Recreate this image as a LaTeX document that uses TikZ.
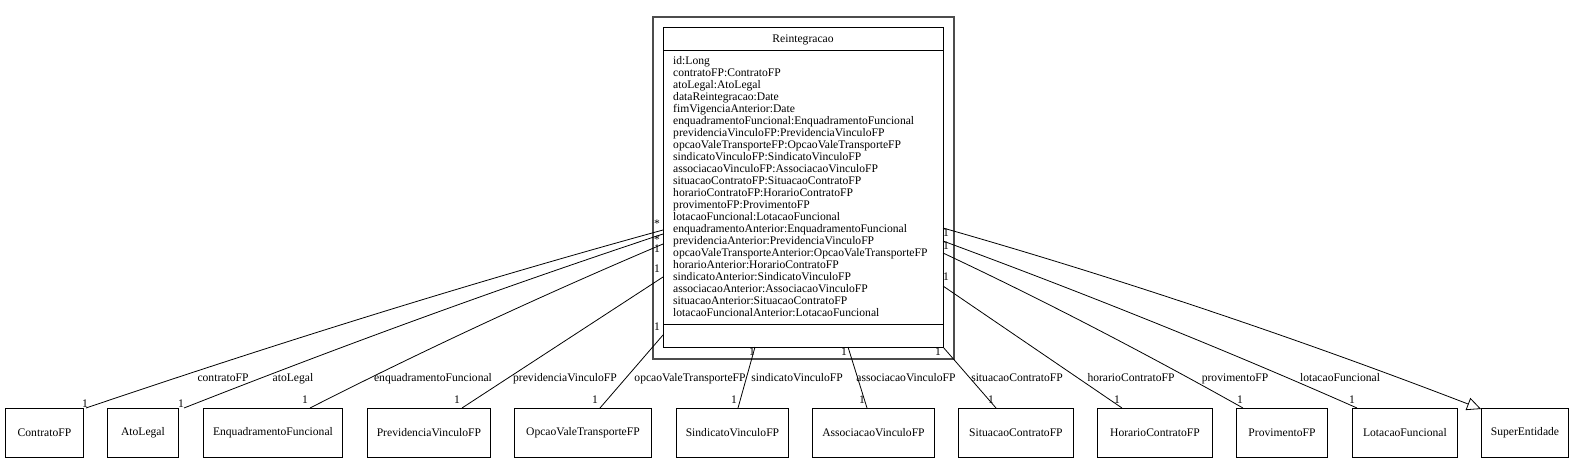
\documentclass[tikz,border=0pt]{standalone}
\usepackage{fontspec}
\setmainfont{Liberation Serif}
\usetikzlibrary{arrows.meta}
\begin{document}
\begin{tikzpicture}[x=1pt,y=-1pt,
  every node/.style={font=\fontsize{11.6}{12}\selectfont, inner sep=0pt},
  box/.style={draw, line width=0.9pt, minimum height=49pt, anchor=north west},
  conn/.style={line width=0.8pt},
  lbl/.style={anchor=base},
  mult/.style={anchor=center},
  attr/.style={anchor=base west},
]
\useasboundingbox (0,0) rectangle (1573,463);

% package frame and class box
\node[draw, line width=1.8pt, draw=black!70, minimum width=301pt, minimum height=342pt, anchor=north west] (pkg) at (652,16) {};
\node[draw, line width=0.9pt, fill=white, minimum width=280pt, minimum height=320pt, anchor=north west] (cls) at (663,27) {};
\draw[line width=0.9pt] ([yshift=-23pt]cls.north west) -- ([yshift=-23pt]cls.north east);
\draw[line width=0.9pt] ([yshift=-297pt]cls.north west) -- ([yshift=-297pt]cls.north east);
\node[anchor=base] (title) at (803,42) {Reintegracao};
\foreach \t [count=\i from 0] in {id:Long,contratoFP:ContratoFP,atoLegal:AtoLegal,dataReintegracao:Date,fimVigenciaAnterior:Date,enquadramentoFuncional:EnquadramentoFuncional,previdenciaVinculoFP:PrevidenciaVinculoFP,opcaoValeTransporteFP:OpcaoValeTransporteFP,sindicatoVinculoFP:SindicatoVinculoFP,associacaoVinculoFP:AssociacaoVinculoFP,situacaoContratoFP:SituacaoContratoFP,horarioContratoFP:HorarioContratoFP,provimentoFP:ProvimentoFP,lotacaoFuncional:LotacaoFuncional,enquadramentoAnterior:EnquadramentoFuncional,previdenciaAnterior:PrevidenciaVinculoFP,opcaoValeTransporteAnterior:OpcaoValeTransporteFP,horarioAnterior:HorarioContratoFP,sindicatoAnterior:SindicatoVinculoFP,associacaoAnterior:AssociacaoVinculoFP,situacaoAnterior:SituacaoContratoFP,lotacaoFuncionalAnterior:LotacaoFuncional}
  \node[attr] (a\i) at (673,64+12*\i) {\t};

% target classes
\node[box, minimum width=78pt] (ContratoFP) at (5,408) {ContratoFP};
\node[box, minimum width=71pt] (AtoLegal) at (107,408) {AtoLegal};
\node[box, minimum width=139pt] (Enq) at (203,408) {EnquadramentoFuncional};
\node[box, minimum width=123pt] (Prev) at (367,408) {PrevidenciaVinculoFP};
\node[box, minimum width=137pt] (Opcao) at (514,408) {OpcaoValeTransporteFP};
\node[box, minimum width=112pt] (Sind) at (676,408) {SindicatoVinculoFP};
\node[box, minimum width=122pt] (Assoc) at (812,408) {AssociacaoVinculoFP};
\node[box, minimum width=115pt] (Sit) at (958,408) {SituacaoContratoFP};
\node[box, minimum width=115pt] (Hor) at (1097,408) {HorarioContratoFP};
\node[box, minimum width=91pt] (Prov) at (1236,408) {ProvimentoFP};
\node[box, minimum width=105pt] (Lot) at (1352,408) {LotacaoFuncional};
\node[box, minimum width=87pt] (Super) at (1481,408) {SuperEntidade};

% end points
\coordinate (tC) at (663,230);  \coordinate (hC) at (86,408);
\coordinate (tA) at (663,234);  \coordinate (hA) at (184,408);
\coordinate (tE) at (663,244);  \coordinate (hE) at (310,408);
\coordinate (tP) at (663,277);  \coordinate (hP) at (462,408);
\coordinate (tO) at (663,335);  \coordinate (hO) at (600,408);
\coordinate (tS) at (755,347);  \coordinate (hS) at (738,408);
\coordinate (tAs) at (848,347); \coordinate (hAs) at (867,408);
\coordinate (tSi) at (943,347); \coordinate (hSi) at (996,408);
\coordinate (tH) at (943,286);  \coordinate (hH) at (1122,408);
\coordinate (tPr) at (943,253); \coordinate (hPr) at (1243,408);
\coordinate (tL) at (943,241);  \coordinate (hL) at (1357,408);
\coordinate (tSu) at (943,228); \coordinate (hSu) at (1481,409);

% connectors
\draw[conn] (tC) .. controls (470,283) and (278,343) .. (hC);
\draw[conn] (tA) .. controls (503,287) and (344,345) .. (hA);
\draw[conn] (tE) .. controls (545,294) and (428,348) .. (hE);
\draw[conn] (tP) -- (hP);
\draw[conn] (tO) -- (hO);
\draw[conn] (tS) -- (hS);
\draw[conn] (tAs) -- (hAs);
\draw[conn] (tSi) -- (hSi);
\draw[conn] (tH) -- (hH);
\draw[conn] (tPr) .. controls (1043,300) and (1143,352) .. (hPr);
\draw[conn] (tL) .. controls (1081,292) and (1219,347) .. (hL);
\draw[conn, -{Triangle[open, length=14pt, width=13pt]}] (tSu) .. controls (1122,279) and (1302,340) .. (hSu);

% role labels
\node[lbl] (lC) at (223,381) {contratoFP};
\node[lbl] (lA) at (293,381) {atoLegal};
\node[lbl] (lE) at (433,381) {enquadramentoFuncional};
\node[lbl] (lP) at (565,381) {previdenciaVinculoFP};
\node[lbl] (lO) at (690,381) {opcaoValeTransporteFP};
\node[lbl] (lS) at (797,381) {sindicatoVinculoFP};
\node[lbl] (lAs) at (906,381) {associacaoVinculoFP};
\node[lbl] (lSi) at (1017,381) {situacaoContratoFP};
\node[lbl] (lH) at (1131,381) {horarioContratoFP};
\node[lbl] (lPr) at (1235,381) {provimentoFP};
\node[lbl] (lL) at (1340,381) {lotacaoFuncional};

% multiplicities at targets
\node[mult] (m1) at (85,404) {1};
\node[mult] (m2) at (181,404) {1};
\node[mult] (m3) at (305,400) {1};
\node[mult] (m4) at (457,400) {1};
\node[mult] (m5) at (595,400) {1};
\node[mult] (m6) at (734,400) {1};
\node[mult] (m7) at (862,400) {1};
\node[mult] (m8) at (991,400) {1};
\node[mult] (m9) at (1117,400) {1};
\node[mult] (m10) at (1240,400) {1};
\node[mult] (m11) at (1352,400) {1};

% multiplicities at source
\node[mult] (s1) at (657,224) {*};
\node[mult] (s2) at (657,240) {*};
\node[mult] (s3) at (657,249) {1};
\node[mult] (s4) at (657,269) {1};
\node[mult] (s5) at (657,327) {1};
\node[mult] (s6) at (752,352) {1};
\node[mult] (s7) at (844,352) {1};
\node[mult] (s8) at (938,352) {1};
\node[mult] (s9) at (946,233) {1};
\node[mult] (s10) at (946,246) {1};
\node[mult] (s11) at (946,277) {1};
\end{tikzpicture}
\end{document}
